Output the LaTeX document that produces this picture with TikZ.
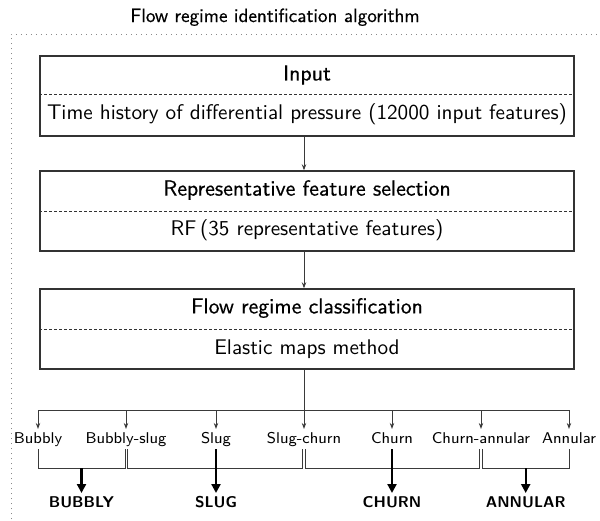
\documentclass[tikz,border=0pt]{standalone}
\usepackage{fontspec}
\usetikzlibrary{arrows.meta,calc}
\newfontfamily\headsans[FakeBold=0.5]{lmsans10-regular.otf}
\definecolor{boxcol}{HTML}{333333}
\definecolor{linecol}{HTML}{3A3A3A}
\definecolor{framecol}{HTML}{8A8A8A}
\begin{document}
\begin{tikzpicture}[x=0.5pt,y=-0.5pt,
  box/.style={draw=boxcol, line width=0.7pt, minimum width=267pt, minimum height=40pt, inner sep=0pt},
  head/.style={font=\headsans\fontsize{10.9}{13}\selectfont, inner sep=0pt},
  bodytext/.style={font=\sffamily\fontsize{10.6}{13}\selectfont, inner sep=0pt},
  regime/.style={font=\sffamily\fontsize{7.8}{9}\selectfont, inner xsep=0pt, inner ysep=1pt, text height=6pt, text depth=1.8pt, anchor=north},
  final/.style={font=\sffamily\bfseries\fontsize{7.8}{9}\selectfont, inner sep=1.5pt, anchor=north},
  thinline/.style={line width=0.45pt, draw=linecol},
  thinarrow/.style={thinline, -{Stealth[length=3pt,width=2.2pt]}},
  thickarrow/.style={line width=1.1pt, draw=black, -{Triangle[length=4.5pt,width=4.5pt]}},
  divider/.style={draw=boxcol, dash pattern=on 1.5pt off 1pt, line width=0.4pt},
  framestyle/.style={draw=framecol, dotted, line width=0.5pt}
]
\useasboundingbox (0,0) rectangle (600,520);

% title and frame
\node[font=\headsans\fontsize{9.6}{12}\selectfont, anchor=base, inner sep=0pt] (title) at (275,22) {Flow regime identification algorithm};
\draw[framestyle] (11,524) -- (11,34) -- (604,34);

% helper coordinates
\coordinate (spine) at (304,0);
\coordinate (d1) at (0,94);
\coordinate (d2) at (0,211);
\coordinate (d3) at (0,329);
\coordinate (busL) at (38,410);
\coordinate (busR) at (569,410);
\coordinate (brk) at (0,468);
\coordinate (fin) at (0,493);

% boxes
\node[box] (b1) at (307,96) {};
\node[head] (h1) at (307,75) {Input};
\node[bodytext] (t1) at (307,114) {Time history of differential pressure (12000 input features)};
\draw[divider] (b1.west |- d1) -- (b1.east |- d1);

\node[box] (b2) at (307,211) {};
\node[head] (h2) at (307,190) {Representative feature selection};
\node[bodytext] (t2) at (307,230) {RF\,(35 representative features)};
\draw[divider] (b2.west |- d2) -- (b2.east |- d2);

\node[box] (b3) at (307,329) {};
\node[head] (h3) at (307,308) {Flow regime classification};
\node[bodytext] (t3) at (307,349) {Elastic maps method};
\draw[divider] (b3.west |- d3) -- (b3.east |- d3);

\draw[thinarrow] (b1.south -| spine) -- (b2.north -| spine);
\draw[thinarrow] (b2.south -| spine) -- (b3.north -| spine);
\draw[thinline] (b3.south -| spine) -- (spine |- busL);
\draw[thinline] (busL) -- (busR);

% regime labels
\node[regime] (r1) at (38,429) {Bubbly};
\node[regime] (r2) at (126,429) {Bubbly-slug};
\node[regime] (r3) at (216,429) {Slug};
\node[regime] (r4) at (304,429) {Slug-churn};
\node[regime] (r5) at (392,429) {Churn};
\node[regime] (r6) at (481,429) {Churn-annular};
\node[regime] (r7) at (569,429) {Annular};
\foreach \r in {r1,r2,r3,r4,r5,r6,r7}{
  \draw[thinarrow] (\r |- busL) -- (\r.north);
}

% double bracket posts
\coordinate (r2L) at ([xshift=-0.5pt]r2.south);
\coordinate (r2R) at ([xshift=0.5pt]r2.south);
\coordinate (r4L) at ([xshift=-0.8pt]r4.south);
\coordinate (r4R) at ([xshift=0.8pt]r4.south);
\coordinate (r6L) at ([xshift=-0.7pt]r6.south);
\coordinate (r6R) at ([xshift=0.7pt]r6.south);

\draw[thinline] (r1.south) -- (r1 |- brk) -- (r2L |- brk) -- (r2L);
\draw[thinline] (r2R) -- (r2R |- brk) -- (r4L |- brk) -- (r4L);
\draw[thinline] (r4R) -- (r4R |- brk) -- (r6L |- brk) -- (r6L);
\draw[thinline] (r6R) -- (r6R |- brk) -- (r7 |- brk) -- (r7.south);

\coordinate (m1) at ($(r1 |- brk)!0.5!(r2L |- brk)$);
\coordinate (m4) at ($(r6R |- brk)!0.5!(r7 |- brk)$);

% final classes
\node[final] (f1) at (m1 |- fin) {BUBBLY};
\node[final] (f2) at (r3 |- fin) {SLUG};
\node[final] (f3) at (r5 |- fin) {CHURN};
\node[final] (f4) at (m4 |- fin) {ANNULAR};

\draw[thickarrow] (m1) -- (f1.north);
\draw[thickarrow] (r3.south) -- (f2.north);
\draw[thickarrow] (r5.south) -- (f3.north);
\draw[thickarrow] (m4) -- (f4.north);
\end{tikzpicture}
\end{document}
